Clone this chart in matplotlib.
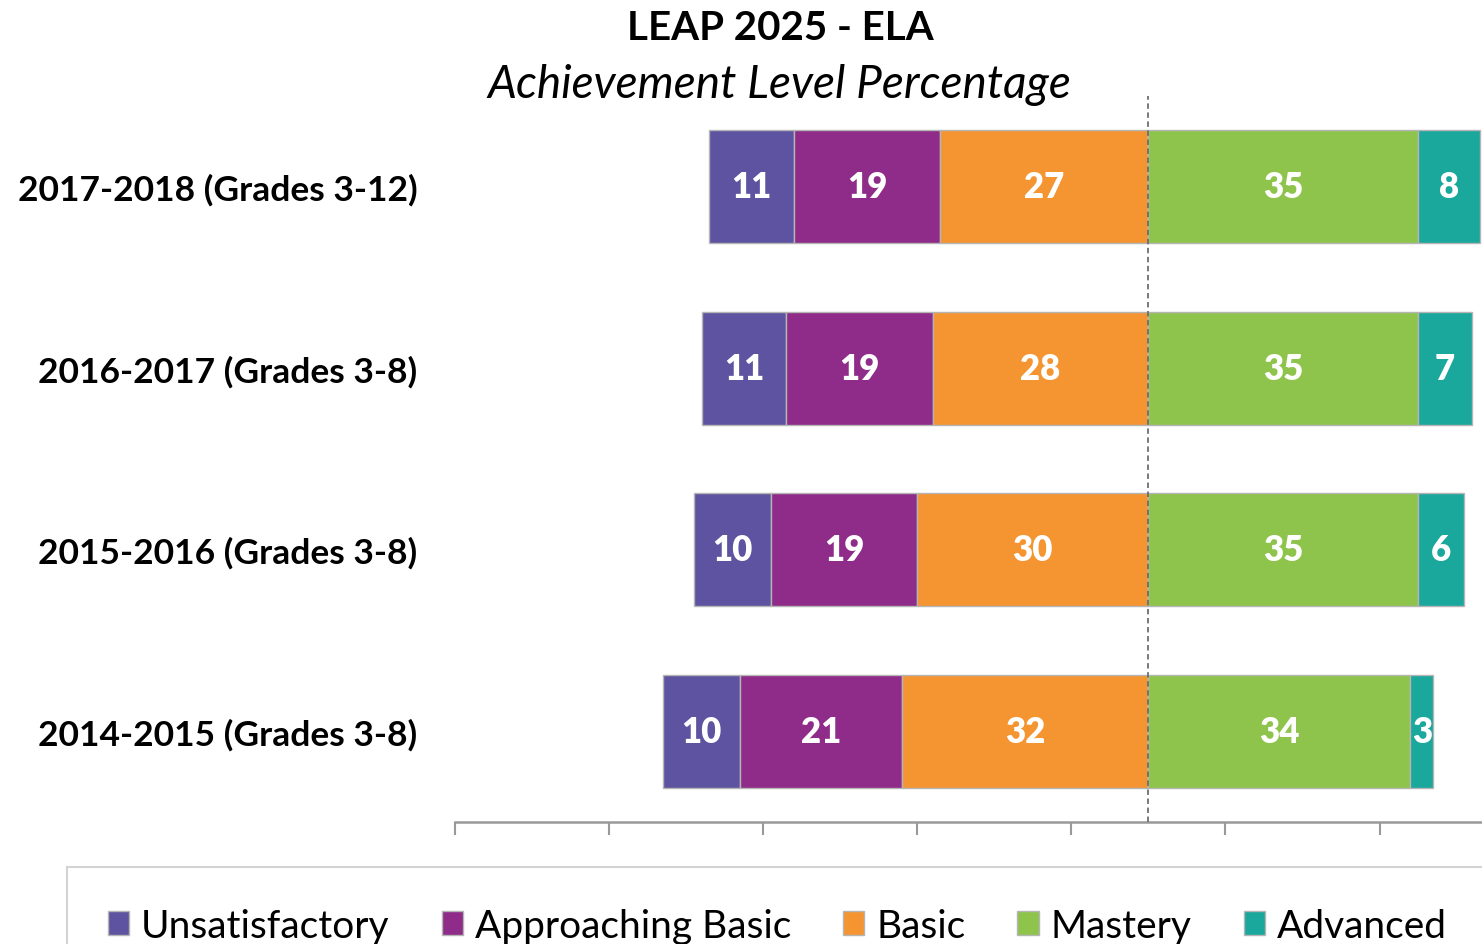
import numpy as np
import matplotlib.pyplot as plt

plt.rcParams['font.family'] = ['Lato', 'DejaVu Sans']

years = ['2014-2015 (Grades 3-8)', '2015-2016 (Grades 3-8)',
         '2016-2017 (Grades 3-8)', '2017-2018 (Grades 3-12)']
unsatisfactory = [10, 10, 11, 11]
approaching = [21, 19, 19, 19]
basic = [32, 30, 28, 27]
mastery = [34, 35, 35, 35]
advanced = [3, 6, 7, 8]

levels = ['Unsatisfactory', 'Approaching Basic', 'Basic', 'Mastery', 'Advanced']
colors = ['#5E53A0', '#8F2C89', '#F49531', '#8EC44B', '#1AA79C']


def main():
    fig = plt.figure(figsize=(14.82, 9.45), dpi=100)
    ax = fig.add_axes([455/1482, 1 - 823/945, 1 - 455/1482, (823 - 97)/945])

    y = np.arange(len(years))
    b = np.array(basic)
    a = np.array(approaching)
    u = np.array(unsatisfactory)
    m = np.array(mastery)
    lefts = [-(b + a + u), -(b + a), -b, np.zeros(len(y)), m]
    widths = [u, a, b, m, np.array(advanced)]

    handles = []
    for left, width, col, name in zip(lefts, widths, colors, levels):
        bars = ax.barh(y, width, left=left, height=0.62, color=col,
                       edgecolor='#b5b5b5', linewidth=1, label=name, zorder=2)
        ax.bar_label(bars, label_type='center', color='white',
                     fontweight='heavy', fontsize=25)
        handles.append(bars)

    ax.axvline(0, color='#6e6e6e', linestyle=(0, (3, 2)), lw=1.3, zorder=3)

    ax.set_xlim(-90, 43.3)
    ax.set_ylim(-0.5, 3.5)
    ax.set_xticks(np.arange(-90, 41, 20))
    ax.set_xticklabels([])
    ax.tick_params(axis='x', direction='out', length=9, width=1.5, colors='#999999')
    ax.set_yticks(y)
    ax.set_yticklabels(years, fontsize=25.5, fontweight='bold')
    ax.tick_params(axis='y', length=0, pad=27)
    for s in ['left', 'top', 'right']:
        ax.spines[s].set_visible(False)
    ax.spines['bottom'].set_color('#999999')
    ax.spines['bottom'].set_linewidth(1.8)

    fig.text(780/1482, 1 - 28/945, 'LEAP 2025 - ELA', ha='center', va='center',
             fontsize=29, fontweight='bold')
    fig.text(779/1482, 1 - 85/945, 'Achievement Level Percentage', ha='center',
             va='center', fontsize=33, style='italic')

    leg = fig.legend(handles=handles, loc='upper left',
                     bbox_to_anchor=(67/1482, 1 - 868/945), ncol=5,
                     fontsize=28, handlelength=0.55, handleheight=0.55,
                     handletextpad=0.3, columnspacing=1.34, borderpad=1.05,
                     borderaxespad=0, fancybox=False, edgecolor='#c8c8c8')
    leg.get_frame().set_linewidth(1.5)

    fig.savefig('out.png', dpi=100)


main()
